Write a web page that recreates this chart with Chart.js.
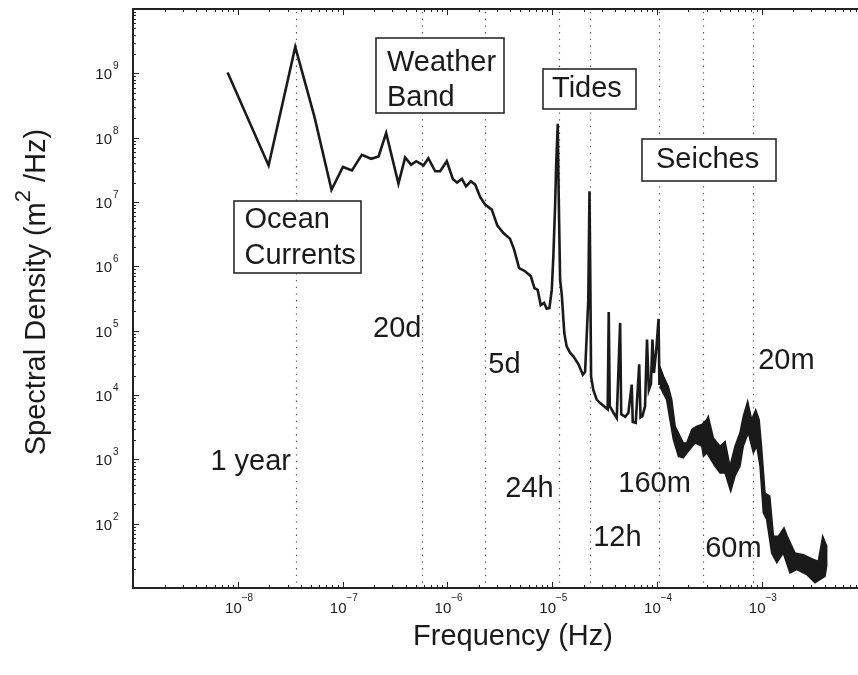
<!DOCTYPE html>
<html>
<head>
<meta charset="utf-8">
<title>Spectral density of water level</title>
<script src="https://cdn.jsdelivr.net/npm/chart.js@4.4.1/dist/chart.umd.min.js"></script>
<style>
  html, body { margin: 0; padding: 0; background: #fff; overflow: hidden; }
  canvas { display: block; }
</style>
</head>
<body>
<canvas id="spectrum" width="858" height="675"></canvas>
<script>
// main trace: frequency (Hz) and spectral density (m^2/Hz)
var freq = [8.0e-9, 1.97e-8, 3.54e-8, 5.4e-8, 7.85e-8, 1.01e-7, 1.23e-7, 1.53e-7, 1.88e-7, 2.21e-7,
    2.61e-7, 3.42e-7, 3.96e-7, 4.52e-7, 5.05e-7, 5.93e-7, 6.6e-7, 7.67e-7, 8.55e-7, 9.9e-7,
    1.13e-6, 1.24e-6, 1.38e-6, 1.51e-6, 1.68e-6, 1.85e-6, 2.06e-6, 2.3e-6, 2.66e-6, 3.01e-6,
    3.44e-6, 3.98e-6, 4.35e-6, 4.85e-6, 5.53e-6, 6.28e-6, 6.8e-6, 7.3e-6, 7.8e-6, 8.4e-6,
    8.9e-6, 9.45e-6, 9.95e-6, 1.03e-5, 1.07e-5, 1.095e-5, 1.135e-5, 1.15e-5, 1.17e-5, 1.195e-5,
    1.24e-5, 1.31e-5, 1.38e-5, 1.49e-5, 1.6e-5, 1.79e-5, 1.97e-5, 2.07e-5, 2.22e-5, 2.28e-5,
    2.33e-5, 2.36e-5, 2.48e-5, 2.67e-5, 2.88e-5, 3.14e-5, 3.4e-5, 3.48e-5, 3.56e-5, 3.86e-5,
    4.15e-5, 4.47e-5, 4.58e-5, 5.0e-5, 5.36e-5, 5.77e-5, 5.9e-5, 6.3e-5, 6.8e-5, 7.0e-5,
    7.3e-5, 7.73e-5, 8.07e-5, 8.4e-5, 8.8e-5, 9.1e-5, 9.4e-5, 9.9e-5, 1.04e-4, 1.06e-4, 1.07e-4];
var dens = [1.03e9, 3.7e7, 2.57e9, 2.1e8, 1.55e7, 3.5e7, 3.1e7, 5.4e7, 4.7e7, 5.1e7,
    1.18e8, 1.93e7, 4.9e7, 3.8e7, 4.3e7, 3.7e7, 4.8e7, 3.0e7, 3.0e7, 4.3e7,
    2.28e7, 2.0e7, 2.28e7, 1.75e7, 2.1e7, 1.86e7, 1.2e7, 9.1e6, 7.6e6, 4.3e6,
    3.3e6, 2.67e6, 1.82e6, 9.4e5, 8.4e5, 7.0e5, 4.6e5, 4.3e5, 2.5e5, 2.7e5,
    2.2e5, 2.26e5, 4.3e5, 1.43e6, 8.6e6, 3.6e7, 1.65e8, 2.8e7, 4.7e6, 6.2e5,
    3.6e5, 9.2e4, 5.7e4, 4.5e4, 4.0e4, 3.0e4, 2.07e4, 2.3e4, 3.0e5, 1.47e7,
    3.0e5, 1.95e4, 1.2e4, 8.5e3, 7.5e3, 6.7e3, 6.0e3, 1.95e5, 6.7e3, 5.3e3,
    4.4e3, 1.32e5, 5.0e3, 4.6e3, 5.3e3, 1.45e4, 3.8e3, 3.7e3, 3.0e4, 4.5e3,
    4.7e3, 6.7e3, 7.3e4, 1.2e4, 1.5e4, 7.3e4, 2.2e4, 5.1e4, 1.52e5, 1.5e4, 2.0e4];

// noisy high-frequency part: upper and lower edge of the band
var bandTopF = [1.07e-4, 1.16e-4, 1.29e-4, 1.39e-4, 1.5e-4, 1.61e-4, 1.79e-4, 1.93e-4, 2.16e-4, 2.41e-4,
    2.69e-4, 3.0e-4, 3.1e-4, 3.47e-4, 4.02e-4, 4.49e-4, 5.0e-4, 5.58e-4, 6.23e-4, 6.7e-4,
    7.38e-4, 8.05e-4, 8.8e-4, 9.5e-4, 1.0e-3, 1.08e-3, 1.2e-3, 1.3e-3, 1.45e-3, 1.64e-3,
    1.76e-3, 2.09e-3, 2.51e-3, 3.12e-3, 3.48e-3, 3.84e-3, 4.19e-3];
var bandTopS = [2.8e4, 1.95e4, 1.36e4, 8.5e3, 3.27e3, 2.58e3, 1.8e3, 1.8e3, 2.9e3, 3.27e3,
    3.47e3, 4.15e3, 4.67e3, 2.15e3, 1.6e3, 1.9e3, 780, 1.6e3, 2.58e3, 4.67e3,
    8.0e3, 4.15e3, 5.9e3, 4.15e3, 1.6e3, 301, 267, 64, 64, 86,
    64, 35, 33, 27.7, 26, 64, 44.6];
var bandLowF = [1.07e-4, 1.24e-4, 1.44e-4, 1.61e-4, 1.79e-4, 2.0e-4, 2.32e-4, 2.69e-4, 2.79e-4, 3.0e-4,
    3.6e-4, 4.02e-4, 4.49e-4, 5.08e-4, 5.58e-4, 6.23e-4, 6.7e-4, 7.48e-4, 8.36e-4, 9.0e-4,
    9.68e-4, 1.04e-3, 1.12e-3, 1.25e-3, 1.4e-3, 1.61e-3, 1.87e-3, 2.17e-3, 2.7e-3, 3.24e-3,
    3.61e-3, 4.04e-3, 4.19e-3];
var bandLowS = [1.36e4, 8.5e3, 2.03e3, 1.11e3, 1.05e3, 1.33e3, 1.8e3, 1.6e3, 1.11e3, 1.26e3,
    780, 615, 615, 318, 546, 780, 1.6e3, 2.58e3, 1.26e3, 1.6e3,
    780, 147, 116, 35, 24.6, 35, 17.2, 19.4, 16.2, 12,
    13.5, 15.2, 21.8];

// dotted period markers
var periodNames = ['1 year', '20d', '5d', '24h', '12h', '160m', '60m', '20m'];
var periodFreq = [3.6e-8, 5.79e-7, 2.31e-6, 1.157e-5, 2.315e-5, 1.042e-4, 2.778e-4, 8.33e-4];

// tick labels (powers of ten)
var xExp = [-8, -7, -6, -5, -4, -3];
var yExp = [2, 3, 4, 5, 6, 7, 8, 9];

var bandNames = [['Ocean', 'Currents'], ['Weather', 'Band'], ['Tides'], ['Seiches']];

// placement of the annotation texts
var periodPlace = [
    {align: 'right', dx: -5, y: 470},
    {align: 'right', dx: -1, y: 337},
    {align: 'left', dx: 3, y: 373},
    {align: 'right', dx: -5, y: 497},
    {align: 'left', dx: 3, y: 546},
    {align: 'center', dx: -4, y: 492},
    {align: 'left', dx: 2, y: 557},
    {align: 'left', dx: 5, y: 369}
];
var boxPlace = [
    {x: 234, y: 201, w: 127, h: 72, tx: 244.5, base: [228, 264]},
    {x: 376, y: 38, w: 128, h: 75, tx: 387, base: [71, 106]},
    {x: 543, y: 69, w: 93, h: 40, tx: 552, base: [97]},
    {x: 642, y: 139, w: 134, h: 42, tx: 656, base: [168]}
];

var FONT = '"Liberation Sans", Arial, Helvetica, sans-serif';
var INK = '#1a1a1a';

var mainPts = freq.map(function (f, i) { return {x: f, y: dens[i]}; });
var bandPts = bandTopF.map(function (f, i) { return {x: f, y: bandTopS[i]}; });
for (var k = bandLowF.length - 1; k >= 0; k--) bandPts.push({x: bandLowF[k], y: bandLowS[k]});

var gridPlugin = {
    id: 'periodGrid',
    beforeDatasetsDraw: function (chart) {
        var ctx = chart.ctx, a = chart.chartArea, xs = chart.scales.x;
        ctx.save();
        ctx.strokeStyle = '#555';
        ctx.lineWidth = 1.2;
        ctx.setLineDash([1.3, 5.4]);
        periodFreq.forEach(function (f) {
            var px = Math.round(xs.getPixelForValue(f)) + 0.5;
            ctx.beginPath();
            ctx.moveTo(px, a.top + 3);
            ctx.lineTo(px, a.bottom);
            ctx.stroke();
        });
        ctx.restore();
    }
};

var decorPlugin = {
    id: 'decor',
    afterDatasetsDraw: function (chart) {
        var ctx = chart.ctx, a = chart.chartArea, xs = chart.scales.x, ys = chart.scales.y;
        ctx.save();
        ctx.fillStyle = INK;
        ctx.textBaseline = 'alphabetic';

        // period labels
        ctx.font = '29px ' + FONT;
        periodNames.forEach(function (name, i) {
            var p = periodPlace[i];
            ctx.textAlign = p.align;
            ctx.fillText(name, xs.getPixelForValue(periodFreq[i]) + p.dx, p.y);
        });

        // band boxes
        bandNames.forEach(function (lines, i) {
            var b = boxPlace[i];
            ctx.fillStyle = '#fff';
            ctx.fillRect(b.x, b.y, b.w, b.h);
            ctx.strokeStyle = '#2a2a2a';
            ctx.lineWidth = 1.6;
            ctx.strokeRect(b.x, b.y, b.w, b.h);
            ctx.fillStyle = INK;
            ctx.textAlign = 'left';
            lines.forEach(function (t, j) { ctx.fillText(t, b.tx, b.base[j]); });
        });

        // axis lines
        ctx.strokeStyle = '#222';
        ctx.lineWidth = 2;
        ctx.beginPath();
        ctx.moveTo(a.right, a.top);
        ctx.lineTo(a.left, a.top);
        ctx.lineTo(a.left, a.bottom);
        ctx.lineTo(a.right, a.bottom);
        ctx.stroke();

        // inward tick marks, major and minor
        ctx.lineWidth = 1;
        ctx.beginPath();
        for (var e = -9; e <= -3; e++) {
            for (var m = 1; m <= 9; m++) {
                var v = m * Math.pow(10, e);
                if (v > xs.max) continue;
                var px = Math.round(xs.getPixelForValue(v)) + 0.5, len = m === 1 ? 6 : 3;
                ctx.moveTo(px, a.bottom);
                ctx.lineTo(px, a.bottom - len);
                ctx.moveTo(px, a.top);
                ctx.lineTo(px, a.top + len);
            }
        }
        for (var ey = 1; ey <= 10; ey++) {
            for (var my = 1; my <= 9; my++) {
                var vy = my * Math.pow(10, ey);
                if (vy > ys.max * 1.0001) continue;
                var py = Math.round(ys.getPixelForValue(vy)) + 0.5, ly = my === 1 ? 6 : 3;
                ctx.moveTo(a.left, py);
                ctx.lineTo(a.left + ly, py);
            }
        }
        ctx.stroke();

        // tick labels
        ctx.fillStyle = INK;
        xExp.forEach(function (ex) {
            var px = xs.getPixelForValue(Math.pow(10, ex));
            ctx.font = '15px ' + FONT;
            ctx.textAlign = 'right';
            ctx.fillText('10', px + 4, 613);
            ctx.font = '10px ' + FONT;
            ctx.textAlign = 'left';
            ctx.fillText('\u2212' + Math.abs(ex), px + 4, 601);
        });
        yExp.forEach(function (ex) {
            var py = ys.getPixelForValue(Math.pow(10, ex));
            ctx.font = '15px ' + FONT;
            ctx.textAlign = 'right';
            ctx.fillText('10', 112, py + 6);
            ctx.font = '10px ' + FONT;
            ctx.textAlign = 'left';
            ctx.fillText(String(ex), 113, py - 4);
        });

        // axis titles
        ctx.font = '29px ' + FONT;
        ctx.textAlign = 'center';
        ctx.fillText('Frequency (Hz)', 513, 645);

        ctx.translate(45, 292);
        ctx.rotate(-Math.PI / 2);
        ctx.textAlign = 'left';
        var p1 = 'Spectral Density (m', p3 = ' /Hz)';
        var w1 = ctx.measureText(p1).width, w3 = ctx.measureText(p3).width;
        ctx.font = '22px ' + FONT;
        var w2 = ctx.measureText('2').width;
        var s = -(w1 + w2 + w3) / 2;
        ctx.fillText('2', s + w1, -15);
        ctx.font = '29px ' + FONT;
        ctx.fillText(p1, s, 0);
        ctx.fillText(p3, s + w1 + w2, 0);
        ctx.restore();
    }
};

var spectrum = new Chart(document.getElementById('spectrum').getContext('2d'), {
    type: 'line',
    data: {
        datasets: [{
            label: 'spectrum',
            data: mainPts,
            borderColor: INK,
            borderWidth: 2.6,
            pointRadius: 0,
            tension: 0,
            fill: false
        }, {
            label: 'high frequency band',
            data: bandPts,
            borderColor: INK,
            backgroundColor: INK,
            borderWidth: 1.5,
            pointRadius: 0,
            tension: 0,
            fill: 'shape'
        }]
    },
    options: {
        responsive: false,
        animation: false,
        events: [],
        layout: { padding: { left: 133, top: 9, right: 0, bottom: 87 } },
        plugins: {
            legend: { display: false },
            tooltip: { enabled: false }
        },
        scales: {
            x: { type: 'logarithmic', min: 1e-9, max: 8.34e-3, display: false },
            y: { type: 'logarithmic', min: 10, max: 1e10, display: false }
        }
    },
    plugins: [gridPlugin, decorPlugin]
});
</script>
</body>
</html>
